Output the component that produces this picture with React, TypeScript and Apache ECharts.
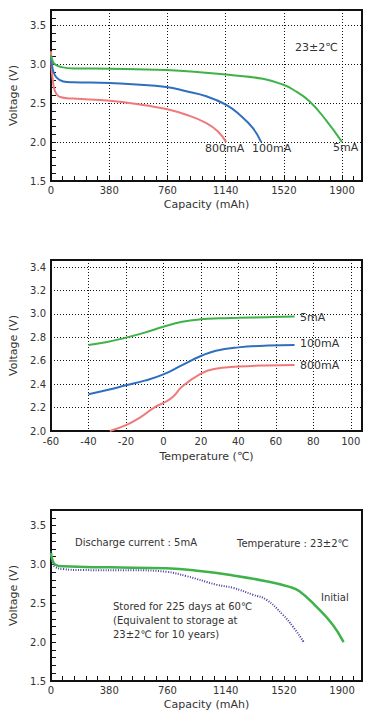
import React, { useEffect, useRef } from "react";
import * as echarts from "echarts";

// ---- Chart 1: discharge curves at 23±2℃ ----
const cap5mA = [0, 8, 26, 70, 145, 384, 753, 970, 1188, 1383, 1513, 1579, 1687, 1796, 1900];
const volt5mA = [3.12, 3.06, 3.0, 2.965, 2.948, 2.944, 2.927, 2.9, 2.86, 2.815, 2.741, 2.677, 2.526, 2.28, 2.0];
const cap100mA = [0, 6, 15, 37, 80, 145, 384, 753, 883, 1014, 1144, 1231, 1318, 1372];
const volt100mA = [3.1, 3.0, 2.91, 2.83, 2.78, 2.77, 2.76, 2.71, 2.655, 2.59, 2.48, 2.353, 2.18, 2.0];
const cap800mA = [0, 4, 11, 26, 59, 145, 384, 623, 753, 883, 1014, 1090, 1144];
const volt800mA = [3.17, 2.95, 2.81, 2.655, 2.58, 2.56, 2.534, 2.47, 2.427, 2.353, 2.246, 2.138, 2.0];

// ---- Chart 2: voltage vs temperature ----
const temp5mA = [-40, -30, -20, -10, 0, 10, 20, 30, 40, 55, 70];
const tv5mA = [2.734, 2.76, 2.797, 2.84, 2.89, 2.932, 2.954, 2.962, 2.966, 2.972, 2.977];
const temp100mA = [-40, -30, -20, -10, 0, 10, 20, 28, 40, 56, 70];
const tv100mA = [2.314, 2.35, 2.39, 2.43, 2.483, 2.563, 2.64, 2.686, 2.714, 2.73, 2.734];
const temp800mA = [-28.6, -20, -12, -5, 0, 5, 10, 20, 27, 40, 55, 70];
const tv800mA = [2.0, 2.05, 2.12, 2.2, 2.24, 2.29, 2.38, 2.49, 2.53, 2.55, 2.56, 2.563];

// ---- Chart 3: storage characteristics ----
const initialCap = [0, 6, 26, 80, 384, 753, 970, 1188, 1405, 1557, 1622, 1730, 1839, 1910];
const initialVolt = [3.15, 3.08, 3.0, 2.975, 2.962, 2.95, 2.915, 2.858, 2.784, 2.711, 2.655, 2.46, 2.224, 2.0];
const storedCap = [0, 6, 26, 80, 211, 536, 753, 883, 1079, 1188, 1318, 1405, 1513, 1579, 1650];
const storedVolt = [3.17, 3.05, 2.97, 2.94, 2.927, 2.925, 2.905, 2.85, 2.74, 2.698, 2.61, 2.547, 2.353, 2.2, 2.0];

const FONT = "DejaVu Sans";
const INK = "#111";
const TXT = "#333";
const GREEN = "#3fb24a";
const BLUE = "#2f6fbe";
const RED = "#f07a7a";
const PURPLE = "#4a3c9c";

const zip = (xs: number[], ys: number[]) => xs.map((x, i) => [x, ys[i]]);

const dotted = { type: [1, 2] as any, color: INK, width: 1 };

function capAxis(gridIndex: number, grid: boolean) {
  return {
    gridIndex,
    type: "value",
    min: 0,
    max: 2030,
    interval: 380,
    axisLine: { onZero: false, lineStyle: { color: INK, width: 2 } },
    axisTick: { show: true, inside: true, length: 5, lineStyle: { color: INK, width: 1 } },
    minorTick: { show: true, splitNumber: 5, length: 5, lineStyle: { color: INK, width: 1 } },
    splitLine: { show: grid, lineStyle: dotted },
    axisLabel: {
      showMaxLabel: false,
      margin: 4,
      fontSize: 10,
      color: TXT,
      fontFamily: FONT,
      formatter: (v: number) => String(v),
    },
    name: "Capacity (mAh)",
    nameLocation: "middle",
    nameGap: 18,
    nameTextStyle: { fontSize: 11, color: TXT, fontFamily: FONT },
  };
}

function voltAxis(gridIndex: number, grid: boolean) {
  return {
    gridIndex,
    type: "value",
    min: 1.5,
    max: 3.7,
    interval: 0.5,
    axisLine: { onZero: false, lineStyle: { color: INK, width: 2 } },
    axisTick: { show: true, inside: true, length: 5, lineStyle: { color: INK, width: 1 } },
    minorTick: { show: true, splitNumber: 5, length: 5, lineStyle: { color: INK, width: 1 } },
    splitLine: { show: grid, lineStyle: dotted },
    axisLabel: {
      showMaxLabel: false,
      margin: 5,
      fontSize: 10,
      color: TXT,
      fontFamily: FONT,
      formatter: (v: number) => v.toFixed(1),
    },
    name: "Voltage (V)",
    nameLocation: "middle",
    nameRotate: 90,
    nameGap: 18,
    nameTextStyle: { fontSize: 11, color: TXT, fontFamily: FONT },
  };
}

const lineSeries = (x: number, y: number, data: number[][], color: string, width = 2, type: any = "solid") => ({
  type: "line",
  xAxisIndex: x,
  yAxisIndex: y,
  data,
  symbol: "none",
  smooth: 0.45,
  lineStyle: { color, width, type },
  z: 3,
});

const txt = (left: number, y: number, text: string, size = 11) => ({
  type: "text",
  left,
  top: y - size * 0.6,
  style: { text, fill: TXT, fontSize: size, fontFamily: FONT },
  z: 10,
});

export default function App() {
  const ref = useRef<HTMLDivElement>(null);
  useEffect(() => {
    if (!ref.current) return;
    const chart = echarts.init(ref.current, undefined, { renderer: "svg" });
    const gridBox = { left: 51, width: 311, height: 171, show: true, borderColor: INK, borderWidth: 2 };
    chart.setOption({
      animation: false,
      backgroundColor: "#fff",
      textStyle: { fontFamily: FONT, color: TXT },
      grid: [
        { ...gridBox, top: 10 },
        { ...gridBox, top: 260 },
        { ...gridBox, top: 510 },
      ],
      xAxis: [
        capAxis(0, true),
        {
          gridIndex: 1,
          type: "value",
          min: -60,
          max: 106,
          interval: 20,
          axisLine: { onZero: false, lineStyle: { color: INK, width: 2 } },
          axisTick: { show: false },
          splitLine: { show: true, lineStyle: dotted },
          axisLabel: { showMaxLabel: false, margin: 5, fontSize: 10, color: TXT, fontFamily: FONT },
          name: "Temperature (℃)",
          nameLocation: "middle",
          nameGap: 20,
          nameTextStyle: { fontSize: 11, color: TXT, fontFamily: FONT },
        },
        capAxis(2, false),
      ],
      yAxis: [
        voltAxis(0, true),
        {
          gridIndex: 1,
          type: "value",
          min: 2.0,
          max: 3.46,
          interval: 0.2,
          axisLine: { onZero: false, lineStyle: { color: INK, width: 2 } },
          axisTick: { show: false },
          splitLine: { show: true, lineStyle: dotted },
          axisLabel: {
            showMaxLabel: false,
            margin: 5,
            fontSize: 10,
            color: TXT,
            fontFamily: FONT,
            formatter: (v: number) => v.toFixed(1),
          },
          name: "Voltage (V)",
          nameLocation: "middle",
          nameRotate: 90,
          nameGap: 21,
          nameTextStyle: { fontSize: 11, color: TXT, fontFamily: FONT },
        },
        voltAxis(2, false),
      ],
      series: [
        lineSeries(0, 0, zip(cap800mA, volt800mA), RED),
        lineSeries(0, 0, zip(cap100mA, volt100mA), BLUE),
        lineSeries(0, 0, zip(cap5mA, volt5mA), GREEN),
        lineSeries(1, 1, zip(temp5mA, tv5mA), GREEN),
        lineSeries(1, 1, zip(temp100mA, tv100mA), BLUE),
        lineSeries(1, 1, zip(temp800mA, tv800mA), RED),
        lineSeries(2, 2, zip(storedCap, storedVolt), PURPLE, 2, [1, 1.5]),
        lineSeries(2, 2, zip(initialCap, initialVolt), GREEN, 2.5),
      ],
      graphic: [
        txt(295, 49, "23±2℃"),
        txt(205, 150, "800mA"),
        txt(252, 150, "100mA"),
        txt(333, 149, "5mA"),
        txt(300, 319, "5mA"),
        txt(300, 345, "100mA"),
        txt(300, 367, "800mA"),
        txt(75, 543, "Discharge current : 5mA", 10),
        txt(237, 544, "Temperature : 23±2℃", 10),
        txt(321, 598, "Initial", 10),
        txt(113, 607, "Stored for 225 days at 60℃", 10),
        txt(113, 621, "(Equivalent to storage at", 10),
        txt(113, 635, "23±2℃ for 10 years)", 10),
      ],
    });
    return () => chart.dispose();
  }, []);
  return (
    <div
      ref={ref}
      style={{ position: "fixed", left: 0, top: 0, width: 387, height: 726, background: "#fff" }}
    />
  );
}
